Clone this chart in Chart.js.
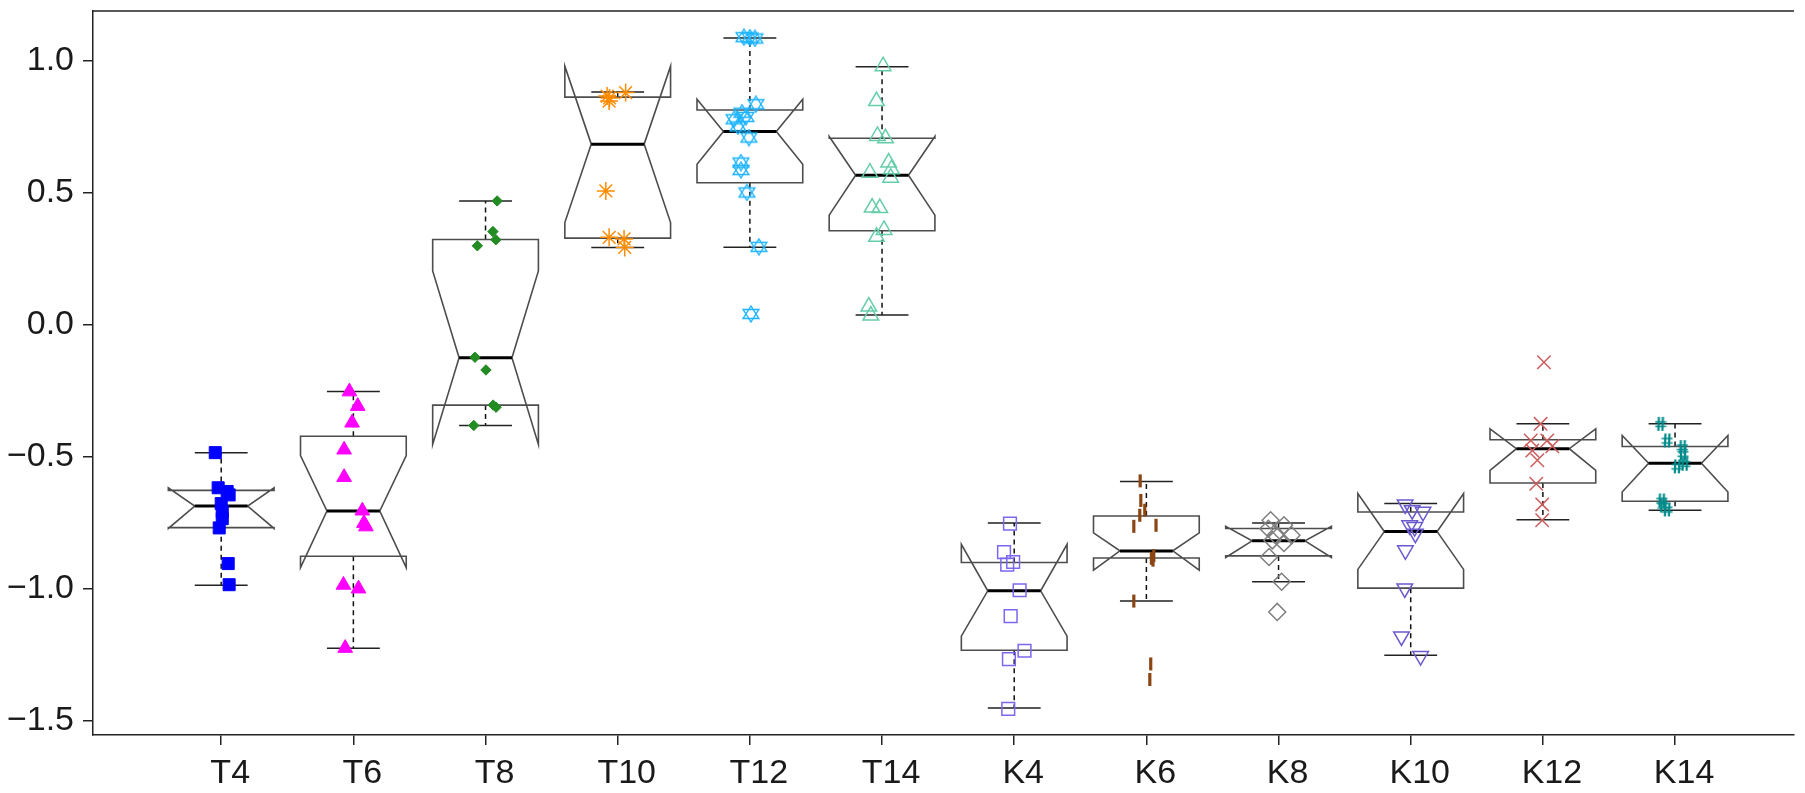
<!DOCTYPE html>
<html>
<head>
<meta charset="utf-8">
<script src="https://cdn.jsdelivr.net/npm/chart.js@4.4.1/dist/chart.umd.min.js"></script>
<style>
  html, body { margin: 0; padding: 0; background: #fff; }
</style>
</head>
<body>
<canvas id="boxChart" width="1805" height="793"></canvas>
<script>
// categories and axis ticks
const groups = ['T4', 'T6', 'T8', 'T10', 'T12', 'T14', 'K4', 'K6', 'K8', 'K10', 'K12', 'K14'];
const yTicks = [-1.5, -1.0, -0.5, 0.0, 0.5, 1.0];

// notched box statistics (one entry per group)
const whiskerLow  = [-0.987, -1.226, -0.382, 0.292, 0.293, 0.036, -1.452, -1.047, -0.974, -1.252, -0.739, -0.703];
const lowerHinge  = [-0.769, -0.877, -0.305, 0.327, 0.537, 0.355, -1.233, -0.884, -0.876, -0.998, -0.600, -0.669];
const notchLow    = [-0.772, -0.920, -0.454, 0.386, 0.607, 0.414, -1.180, -0.930, -0.882, -0.927, -0.552, -0.634];
const medians     = [-0.687, -0.706, -0.126, 0.683, 0.731, 0.565, -1.008, -0.857, -0.819, -0.784, -0.470, -0.525];
const notchHigh   = [-0.618, -0.496, 0.203, 0.978, 0.853, 0.712, -0.832, -0.789, -0.764, -0.640, -0.395, -0.420];
const upperHinge  = [-0.628, -0.423, 0.322, 0.861, 0.812, 0.705, -0.901, -0.725, -0.772, -0.710, -0.436, -0.462];
const whiskerHigh = [-0.485, -0.254, 0.468, 0.880, 1.085, 0.976, -0.751, -0.594, -0.751, -0.678, -0.376, -0.376];

// individual observations and their horizontal jitter (in category units)
const t4Values  = [-0.485, -0.618, -0.632, -0.645, -0.678, -0.708, -0.735, -0.770, -0.905, -0.985];
const t4Jitter  = [-0.045, -0.023, 0.045, 0.060, 0, 0.008, 0.008, -0.015, 0.053, 0.060];
const t6Values  = [-0.254, -0.309, -0.372, -0.474, -0.578, -0.705, -0.752, -0.765, -0.986, -1.000, -1.225];
const t6Jitter  = [-0.030, 0.033, -0.010, -0.070, -0.070, 0.068, 0.080, 0.095, -0.075, 0.039, -0.062];
const t8Values  = [0.468, 0.352, 0.321, 0.298, -0.124, -0.172, -0.305, -0.313, -0.382];
const t8Jitter  = [0.088, 0.056, 0.078, -0.062, -0.080, 0.003, 0.058, 0.080, -0.089];
const t10Values = [0.878, 0.865, 0.858, 0.846, 0.506, 0.330, 0.324, 0.292];
const t10Jitter = [0.060, -0.080, -0.062, -0.065, -0.090, -0.065, 0.048, 0.053];
const t12Values = [1.088, 1.086, 1.083, 0.834, 0.802, 0.786, 0.777, 0.750, 0.708, 0.613, 0.585, 0.500, 0.294, 0.040];
const t12Jitter = [-0.045, 0, 0.038, 0.045, -0.060, -0.030, -0.120, -0.090, -0.008, -0.068, -0.068, -0.023, 0.068, 0.008];
const t14Values = [0.978, 0.846, 0.714, 0.705, 0.613, 0.588, 0.556, 0.575, 0.443, 0.441, 0.358, 0.332, 0.068, 0.034];
const t14Jitter = [0.008, -0.042, -0.035, 0.026, 0.050, 0.071, 0.065, -0.092, -0.075, -0.017, 0.015, -0.042, -0.100, -0.085];
const k4Values  = [-0.754, -0.862, -0.909, -0.899, -1.006, -1.104, -1.235, -1.267, -1.455];
const k4Jitter  = [-0.032, -0.077, -0.053, -0.008, 0.041, -0.027, 0.078, -0.040, -0.045];
const k6Values  = [-0.592, -0.666, -0.703, -0.722, -0.764, -0.760, -0.875, -0.885, -0.892, -1.047, -1.285, -1.344];
const k6Jitter  = [-0.047, -0.042, -0.012, -0.050, -0.095, 0.073, 0.056, 0.038, 0.050, -0.095, 0.033, 0.026];
const k8Values  = [-0.741, -0.760, -0.773, -0.798, -0.798, -0.817, -0.827, -0.880, -0.974, -1.088];
const k8Jitter  = [-0.060, 0.041, -0.077, -0.023, 0.098, -0.047, 0.041, -0.072, 0.023, -0.010];
const k10Values = [-0.681, -0.703, -0.709, -0.760, -0.767, -0.792, -0.855, -0.999, -1.181, -1.255];
const k10Jitter = [-0.042, 0.011, 0.093, -0.008, 0.030, 0.035, -0.040, -0.045, -0.070, 0.075];
const k12Values = [-0.143, -0.376, -0.439, -0.439, -0.461, -0.477, -0.514, -0.603, -0.681, -0.741];
const k12Jitter = [0.008, -0.017, -0.092, 0.033, 0.071, -0.080, -0.042, -0.050, -0.005, -0.005];
const k14Values = [-0.376, -0.439, -0.464, -0.489, -0.527, -0.537, -0.666, -0.685, -0.700];
const k14Jitter = [-0.110, -0.060, 0.056, 0.060, 0.073, 0.015, -0.102, -0.090, -0.060];

const FONT = "'Liberation Sans', Arial, Helvetica, sans-serif";

// little canvas markers for the symbols Chart.js doesn't have
function starOfDavid(color) {
    const c = document.createElement('canvas');
    c.width = 18; c.height = 18;
    const g = c.getContext('2d');
    g.strokeStyle = color;
    g.lineWidth = 1.4;
    g.beginPath();
    g.moveTo(9, 1); g.lineTo(1.2, 13.5); g.lineTo(16.8, 13.5); g.closePath();
    g.moveTo(9, 17); g.lineTo(1.2, 4.5); g.lineTo(16.8, 4.5); g.closePath();
    g.stroke();
    return c;
}

function hashMark(color) {
    const c = document.createElement('canvas');
    c.width = 12; c.height = 16;
    const g = c.getContext('2d');
    g.strokeStyle = color;
    g.lineWidth = 2.2;
    g.beginPath();
    g.moveTo(4.4, 1); g.lineTo(3.8, 15);
    g.moveTo(8.4, 1); g.lineTo(7.8, 15);
    g.stroke();
    g.lineWidth = 1.3;
    g.beginPath();
    g.moveTo(0.5, 6); g.lineTo(11.5, 6);
    g.moveTo(0.5, 10.5); g.lineTo(11.5, 10.5);
    g.stroke();
    return c;
}

const seriesList = [
    { values: t4Values,  jitter: t4Jitter,  color: '#0000FF', style: 'rect',     radius: 8.5, filled: true },
    { values: t6Values,  jitter: t6Jitter,  color: '#FF00FF', style: 'triangle', radius: 8.5, filled: true },
    { values: t8Values,  jitter: t8Jitter,  color: '#228B22', style: 'rectRot',  radius: 5.2, filled: true },
    { values: t10Values, jitter: t10Jitter, color: '#FF8C00', style: 'star',     radius: 9,   width: 1.5 },
    { values: t12Values, jitter: t12Jitter, color: '#1EB4FF', style: starOfDavid('#1EB4FF') },
    { values: t14Values, jitter: t14Jitter, color: '#66CDAA', style: 'triangle', radius: 9,   width: 1.5 },
    { values: k4Values,  jitter: k4Jitter,  color: '#7B68EE', style: 'rect',     radius: 9,   width: 1.5 },
    { values: k6Values,  jitter: k6Jitter,  color: '#8B4513', style: 'line',     radius: 6.5, width: 3.2, rotation: 90 },
    { values: k8Values,  jitter: k8Jitter,  color: '#7F7F7F', style: 'rectRot',  radius: 8.5, width: 1.5 },
    { values: k10Values, jitter: k10Jitter, color: '#6A5ACD', style: 'triangle', radius: 9,   width: 1.5, rotation: 180 },
    { values: k12Values, jitter: k12Jitter, color: '#CD5C5C', style: 'crossRot', radius: 9.5, width: 1.5 },
    { values: k14Values, jitter: k14Jitter, color: '#008B8B', style: hashMark('#008B8B') }
];

const datasets = seriesList.map((s, i) => ({
    label: groups[i],
    data: s.values.map((v, k) => ({ x: i + 1 + s.jitter[k], y: v })),
    showLine: false,
    pointStyle: s.style,
    pointRadius: s.radius || 8,
    pointHoverRadius: s.radius || 8,
    pointRotation: s.rotation || 0,
    pointBorderWidth: s.filled ? 1 : (s.width || 1.3),
    pointBorderColor: s.color,
    pointBackgroundColor: s.filled ? s.color : 'rgba(0,0,0,0)'
}));

// notched boxes, whiskers and the top frame line, drawn under the points
const notchedBoxes = {
    id: 'notchedBoxes',
    beforeDatasetsDraw(chart) {
        const { ctx, chartArea, scales: { x, y } } = chart;
        const py = v => y.getPixelForValue(v);
        ctx.save();

        ctx.strokeStyle = '#222';
        ctx.lineWidth = 1.5;
        ctx.beginPath();
        ctx.moveTo(chartArea.left, chartArea.top);
        ctx.lineTo(chartArea.right, chartArea.top);
        ctx.stroke();

        groups.forEach((g, i) => {
            const pos = i + 1;
            const xc = x.getPixelForValue(pos);
            const xl = x.getPixelForValue(pos - 0.4), xr = x.getPixelForValue(pos + 0.4);
            const nl = x.getPixelForValue(pos - 0.2), nr = x.getPixelForValue(pos + 0.2);

            // dashed whiskers
            ctx.strokeStyle = '#111';
            ctx.lineWidth = 1.5;
            ctx.setLineDash([5, 4]);
            ctx.beginPath();
            ctx.moveTo(xc, py(upperHinge[i])); ctx.lineTo(xc, py(whiskerHigh[i]));
            ctx.moveTo(xc, py(lowerHinge[i])); ctx.lineTo(xc, py(whiskerLow[i]));
            ctx.stroke();
            ctx.setLineDash([]);

            // staples
            ctx.strokeStyle = '#222';
            ctx.beginPath();
            ctx.moveTo(nl, py(whiskerHigh[i])); ctx.lineTo(nr, py(whiskerHigh[i]));
            ctx.moveTo(nl, py(whiskerLow[i]));  ctx.lineTo(nr, py(whiskerLow[i]));
            ctx.stroke();

            // notched box outline
            ctx.strokeStyle = '#4d4d4d';
            ctx.lineWidth = 1.6;
            ctx.beginPath();
            ctx.moveTo(xl, py(lowerHinge[i]));
            ctx.lineTo(xl, py(notchLow[i]));
            ctx.lineTo(nl, py(medians[i]));
            ctx.lineTo(xl, py(notchHigh[i]));
            ctx.lineTo(xl, py(upperHinge[i]));
            ctx.lineTo(xr, py(upperHinge[i]));
            ctx.lineTo(xr, py(notchHigh[i]));
            ctx.lineTo(nr, py(medians[i]));
            ctx.lineTo(xr, py(notchLow[i]));
            ctx.lineTo(xr, py(lowerHinge[i]));
            ctx.closePath();
            ctx.stroke();

            // median
            ctx.strokeStyle = '#000';
            ctx.lineWidth = 3;
            ctx.beginPath();
            ctx.moveTo(nl, py(medians[i])); ctx.lineTo(nr, py(medians[i]));
            ctx.stroke();
        });
        ctx.restore();
    }
};

new Chart(document.getElementById('boxChart'), {
    type: 'scatter',
    data: { datasets: datasets },
    plugins: [notchedBoxes],
    options: {
        responsive: false,
        animation: false,
        devicePixelRatio: 1,
        layout: { padding: { top: 10, left: 0, right: 0, bottom: 0 } },
        plugins: {
            legend: { display: false },
            tooltip: { enabled: false }
        },
        scales: {
            x: {
                type: 'linear',
                min: 0.03,
                max: 12.9,
                afterBuildTicks: s => { s.ticks = groups.map((g, i) => ({ value: i + 1 })); },
                afterFit: s => { s.height = 58; s.paddingLeft = 0; s.paddingRight = 0; },
                grid: { drawOnChartArea: false, drawTicks: true, tickLength: 10, color: '#222', lineWidth: 1.5 },
                border: { display: true, color: '#222', width: 1.5 },
                ticks: {
                    autoSkip: false,
                    maxRotation: 0,
                    padding: 8,
                    labelOffset: 9,
                    color: '#1a1a1a',
                    font: { family: FONT, size: 34 },
                    callback: v => groups[Math.round(v) - 1]
                }
            },
            y: {
                type: 'linear',
                min: -1.554,
                max: 1.187,
                afterBuildTicks: s => { s.ticks = yTicks.map(v => ({ value: v })); },
                afterFit: s => { s.width = 93; s.paddingTop = 0; s.paddingBottom = 0; },
                grid: { drawOnChartArea: false, drawTicks: true, tickLength: 10, color: '#222', lineWidth: 1.5 },
                border: { display: true, color: '#222', width: 1.5 },
                ticks: {
                    padding: 9,
                    color: '#1a1a1a',
                    font: { family: FONT, size: 34 },
                    callback: v => v.toFixed(1).replace('-', '\u2212')
                }
            }
        }
    }
});
</script>
</body>
</html>
